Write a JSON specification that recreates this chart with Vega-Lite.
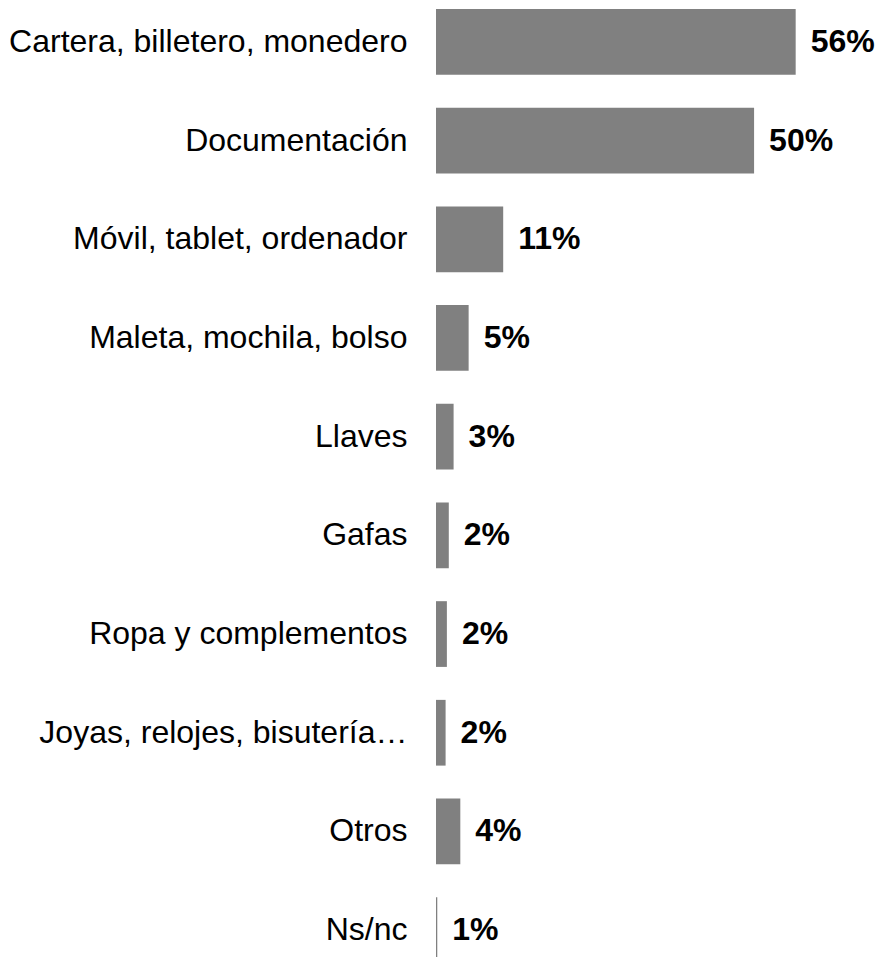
{
  "$schema": "https://vega.github.io/schema/vega-lite/v6.json",
  "autosize": "none",
  "padding": {"left": 436, "top": 0, "right": 61, "bottom": 0},
  "width": 384,
  "height": 972,
  "background": "white",
  "config": {"view": {"stroke": null}, "font": "Liberation Sans"},
  "data": {
    "values": [
      {"item": "Cartera, billetero, monedero", "value": 56.2, "label": "56%"},
      {"item": "Documentación", "value": 49.7, "label": "50%"},
      {"item": "Móvil, tablet, ordenador", "value": 10.5, "label": "11%"},
      {"item": "Maleta, mochila, bolso", "value": 5.1, "label": "5%"},
      {"item": "Llaves", "value": 2.75, "label": "3%"},
      {"item": "Gafas", "value": 2.0, "label": "2%"},
      {"item": "Ropa y complementos", "value": 1.7, "label": "2%"},
      {"item": "Joyas, relojes, bisutería…", "value": 1.5, "label": "2%"},
      {"item": "Otros", "value": 3.8, "label": "4%"},
      {"item": "Ns/nc", "value": 0.2, "label": "1%"}
    ]
  },
  "encoding": {
    "y": {
      "field": "item",
      "type": "nominal",
      "sort": null,
      "scale": {"paddingInner": 0.334, "paddingOuter": 0.0912},
      "axis": {
        "title": null,
        "domain": false,
        "ticks": false,
        "labelFont": "Liberation Sans",
        "labelFontSize": 32,
        "labelColor": "#000000",
        "labelPadding": 29,
        "labelLimit": 0
      }
    },
    "x": {
      "field": "value",
      "type": "quantitative",
      "scale": {"domain": [0, 60], "nice": false},
      "axis": null
    }
  },
  "layer": [
    {"mark": {"type": "bar", "color": "#808080"}},
    {
      "mark": {
        "type": "text",
        "align": "left",
        "baseline": "middle",
        "dx": 15,
        "font": "Liberation Sans",
        "fontSize": 32,
        "fontWeight": "bold",
        "color": "#000000"
      },
      "encoding": {"text": {"field": "label"}}
    }
  ]
}
